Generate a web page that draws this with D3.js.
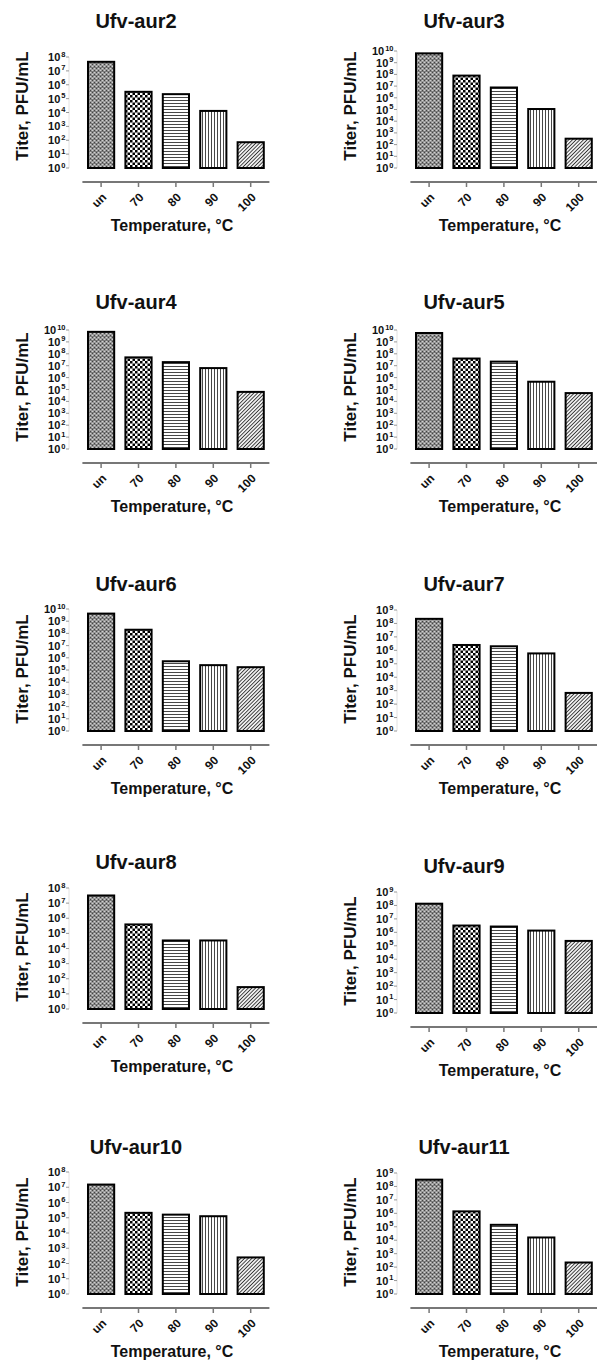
<!DOCTYPE html>
<html>
<head>
<meta charset="utf-8">
<script src="https://cdn.jsdelivr.net/npm/d3@7"></script>
<style>
  body { margin: 0; background: #fff; }
  text { font-family: Arial, "Liberation Sans", sans-serif; font-weight: bold; fill: #111; }
</style>
</head>
<body>
<svg id="fig" width="597" height="1361"></svg>
<script>
// data
const phages = ["Ufv-aur2", "Ufv-aur3", "Ufv-aur4", "Ufv-aur5", "Ufv-aur6",
                "Ufv-aur7", "Ufv-aur8", "Ufv-aur9", "Ufv-aur10", "Ufv-aur11"];
const temps = ["un", "70", "80", "90", "100"];
const yMaxExp = [8, 10, 10, 10, 10, 9, 8, 9, 8, 9];
const titers = [
    [4.5e7, 3.1e5, 2.1e5, 1.3e4, 72],
    [6.3e9, 7.9e7, 7.6e6, 1.1e5, 320],
    [7.0e9, 5.0e7, 2.0e7, 6.3e6, 6.3e4],
    [5.6e9, 4.0e7, 2.2e7, 4.5e5, 5.0e4],
    [4.2e9, 2.0e8, 5.2e5, 2.5e5, 1.7e5],
    [2.2e8, 2.5e6, 2.0e6, 5.9e5, 680],
    [3.2e7, 3.9e5, 3.4e4, 3.4e4, 28],
    [1.35e8, 3.2e6, 2.7e6, 1.35e6, 2.3e5],
    [1.5e7, 2.1e5, 1.6e5, 1.26e5, 250],
    [3.2e8, 1.4e6, 1.4e5, 1.6e4, 220]
];
const xTitle = "Temperature, °C";
const yTitle = "Titer, PFU/mL";

// layout of the panels (offsets of each panel, top of its y axis)
const panelPos = [[0, 0], [328, 0], [0, 281], [328, 281], [0, 563],
                  [328, 563], [0, 841], [328, 845], [0, 1126], [328, 1126]];
const axisTop = [57, 51, 49, 49, 46, 47, 47, 47, 46, 47];
const base = 168, yAxisX = 69, xAxisY = 182;
const patternIds = ["pat-un", "pat-70", "pat-80", "pat-90", "pat-100"];

const svg = d3.select("#fig");
svg.append("rect").attr("width", 597).attr("height", 1361).attr("fill", "#fff");

// fill patterns
const defs = svg.append("defs");
function make_pattern(id, w, h) {
    return defs.append("pattern").attr("id", id)
        .attr("patternUnits", "userSpaceOnUse")
        .attr("width", w).attr("height", h);
}
let p = make_pattern("pat-un", 4, 4);
p.append("rect").attr("width", 4).attr("height", 4).attr("fill", "#999");
[[0, 0, "#444"], [2, 2, "#444"], [2, 0, "#d0d0d0"], [0, 2, "#d0d0d0"]].forEach(d => {
    p.append("rect").attr("x", d[0]).attr("y", d[1]).attr("width", 1).attr("height", 1).attr("fill", d[2]);
});
p.append("rect").attr("x", 0).attr("y", 3).attr("width", 4).attr("height", 0.6).attr("fill", "#666");

p = make_pattern("pat-70", 5, 5);
p.append("rect").attr("width", 5).attr("height", 5).attr("fill", "#fff");
p.append("rect").attr("width", 2.5).attr("height", 2.5).attr("fill", "#000");
p.append("rect").attr("x", 2.5).attr("y", 2.5).attr("width", 2.5).attr("height", 2.5).attr("fill", "#000");

p = make_pattern("pat-80", 3, 3);
p.append("rect").attr("width", 3).attr("height", 3).attr("fill", "#fff");
p.append("line").attr("x1", 0).attr("x2", 3).attr("y1", 1.5).attr("y2", 1.5)
    .attr("stroke", "#333").attr("stroke-width", 0.9);

p = make_pattern("pat-90", 3, 3);
p.append("rect").attr("width", 3).attr("height", 3).attr("fill", "#fff");
p.append("line").attr("y1", 0).attr("y2", 3).attr("x1", 1.5).attr("x2", 1.5)
    .attr("stroke", "#333").attr("stroke-width", 0.9);

p = make_pattern("pat-100", 2.6, 2.6).attr("patternTransform", "rotate(45)");
p.append("rect").attr("width", 2.6).attr("height", 2.6).attr("fill", "#fff");
p.append("line").attr("y1", 0).attr("y2", 2.6).attr("x1", 1.3).attr("x2", 1.3)
    .attr("stroke", "#333").attr("stroke-width", 1);

function draw_panel(i) {
    const g = svg.append("g")
        .attr("transform", `translate(${panelPos[i][0]},${panelPos[i][1]})`);

    const x = d3.scaleBand().domain(temps)
        .range([82.4, 269.4]).paddingInner(0.3).paddingOuter(0.15);
    const y = d3.scaleLog().domain([1, Math.pow(10, yMaxExp[i])])
        .range([base, axisTop[i]]);

    // title
    g.append("text").attr("x", 136).attr("y", 28)
        .attr("text-anchor", "middle").style("font-size", "20px")
        .text(phages[i]);

    // y axis (faint line, small ticks, 10^n labels)
    const exps = d3.range(0, yMaxExp[i] + 1);
    g.append("line").attr("x1", yAxisX).attr("x2", yAxisX)
        .attr("y1", y(Math.pow(10, yMaxExp[i]))).attr("y2", base)
        .attr("stroke", "#e2e2e2").attr("stroke-width", 1);
    g.selectAll(".ytick").data(exps).join("line")
        .attr("x1", yAxisX - 3).attr("x2", yAxisX)
        .attr("y1", d => y(Math.pow(10, d))).attr("y2", d => y(Math.pow(10, d)))
        .attr("stroke", "#999").attr("stroke-width", 1);
    const lab = g.selectAll(".ylab").data(exps).join("text")
        .attr("x", yAxisX - 3.5).attr("y", d => y(Math.pow(10, d)) + 4)
        .attr("text-anchor", "end").style("font-size", "11px");
    lab.append("tspan").text("10");
    lab.append("tspan").attr("dy", -4.5).attr("dx", 1).style("font-size", "7.5px").text(d => d);

    // bars
    g.selectAll(".bar").data(titers[i]).join("rect")
        .attr("x", (d, j) => x(temps[j]))
        .attr("width", x.bandwidth())
        .attr("y", d => y(d))
        .attr("height", d => base - y(d))
        .attr("fill", (d, j) => `url(#${patternIds[j]})`)
        .attr("stroke", "#000").attr("stroke-width", 2);

    // x axis
    g.append("line").attr("x1", 82.4).attr("x2", 269.4)
        .attr("y1", xAxisY).attr("y2", xAxisY)
        .attr("stroke", "#777").attr("stroke-width", 2);
    g.selectAll(".xtick").data(temps).join("line")
        .attr("x1", d => x(d) + x.bandwidth() / 2).attr("x2", d => x(d) + x.bandwidth() / 2)
        .attr("y1", xAxisY).attr("y2", xAxisY + 5)
        .attr("stroke", "#777").attr("stroke-width", 1.5);
    g.selectAll(".xlab").data(temps).join("text")
        .attr("transform", d => `translate(${x(d) + x.bandwidth() / 2 + 6},198) rotate(-45)`)
        .attr("text-anchor", "end").style("font-size", "12px")
        .text(d => d);

    // axis titles
    g.append("text").attr("x", 172).attr("y", 231)
        .attr("text-anchor", "middle").style("font-size", "16px")
        .text(xTitle);
    g.append("text").attr("transform", "translate(28,106) rotate(-90)")
        .attr("text-anchor", "middle").style("font-size", "17px")
        .text(yTitle);
}

phages.forEach((d, i) => draw_panel(i));
</script>
</body>
</html>
